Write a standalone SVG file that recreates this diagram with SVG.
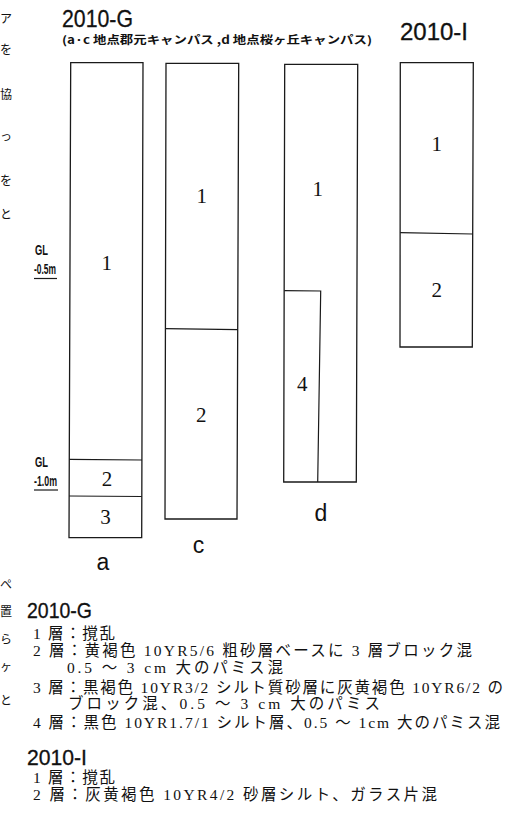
<svg xmlns="http://www.w3.org/2000/svg" width="521" height="817" viewBox="0 0 521 817">
<style>
.box{fill:none;stroke:#1a1a1a;stroke-width:1.3}
.ln{fill:none;stroke:#1a1a1a;stroke-width:1.2}
.num{font-family:"Liberation Serif","Noto Sans CJK JP",serif;font-size:21px;fill:#111;text-anchor:middle}
.lab{font-family:"Liberation Sans","DejaVu Sans",sans-serif;font-size:23px;fill:#111;text-anchor:middle}
.hd{font-family:"Liberation Sans","DejaVu Sans",sans-serif;fill:#111;stroke:#111;stroke-width:0.3}
.gl{font-family:"Liberation Sans","DejaVu Sans",sans-serif;font-size:15px;font-weight:bold;fill:#111}
.sub{font-family:"Noto Sans CJK JP",sans-serif;font-size:11px;font-weight:bold;fill:#111}
.lg{font-family:"Liberation Serif","Noto Sans CJK JP",serif;font-size:15.5px;fill:#111}
.frag{font-family:"Noto Sans CJK JP",sans-serif;font-size:12px;fill:#111}
</style>
<rect width="521" height="817" fill="#fff"/>

<g id="edge-fragments">
<text class="frag" x="0" y="23">ア</text>
<text class="frag" x="0" y="54">を</text>
<text class="frag" x="0" y="99">協</text>
<text class="frag" x="0" y="141">っ</text>
<text class="frag" x="0" y="185">を</text>
<text class="frag" x="0" y="219">と</text>
<text class="frag" x="0" y="589">ペ</text>
<text class="frag" x="0" y="616">置</text>
<text class="frag" x="0" y="644">ら</text>
<text class="frag" x="0" y="671">ヶ</text>
<text class="frag" x="0" y="705">と</text>
</g>

<g id="headers">
<text class="hd" x="62" y="27" font-size="24" textLength="71" lengthAdjust="spacingAndGlyphs">2010-G</text>
<text class="sub" x="62" y="44" textLength="310" lengthAdjust="spacingAndGlyphs">(a·c 地点郡元キャンパス ,d 地点桜ヶ丘キャンパス)</text>
<text class="hd" x="400" y="39.5" font-size="23" textLength="68" lengthAdjust="spacingAndGlyphs">2010-I</text>
</g>

<g id="gl-markers">
<text class="gl" x="35" y="255" textLength="13" lengthAdjust="spacingAndGlyphs">GL</text>
<text class="gl" x="34" y="273.5" textLength="22" lengthAdjust="spacingAndGlyphs">-0.5m</text>
<line class="ln" x1="34" y1="278.5" x2="57" y2="278.5"/>
<text class="gl" x="35" y="467" textLength="13" lengthAdjust="spacingAndGlyphs">GL</text>
<text class="gl" x="34" y="485.5" textLength="23" lengthAdjust="spacingAndGlyphs">-1.0m</text>
<line class="ln" x1="34" y1="490" x2="58" y2="490"/>
</g>

<g id="column-a">
<polygon class="box" points="70.7,62.7 143,62.7 141.7,537.7 69,537.7"/>
<line class="ln" x1="69.3" y1="459.3" x2="142" y2="460"/>
<line class="ln" x1="69.2" y1="496" x2="141.8" y2="496.5"/>
<text class="num" x="106.7" y="270">1</text>
<text class="num" x="107" y="485.5">2</text>
<text class="num" x="105.5" y="523.5">3</text>
<text class="lab" x="103" y="570">a</text>
</g>

<g id="column-c">
<polygon class="box" points="166,63.3 238.7,63.3 237,519 165,519"/>
<line class="ln" x1="165.5" y1="328.7" x2="237.8" y2="329.7"/>
<text class="num" x="201.7" y="202.5">1</text>
<text class="num" x="201.3" y="421.5">2</text>
<text class="lab" x="198.5" y="553">c</text>
</g>

<g id="column-d">
<polygon class="box" points="284.7,64.3 357.7,64.3 356.3,482 283.7,482"/>
<polyline class="ln" points="284.3,290.7 320.7,291 317.7,482"/>
<text class="num" x="317.7" y="195.8">1</text>
<text class="num" x="302.3" y="391">4</text>
<text class="lab" x="321" y="521">d</text>
</g>

<g id="column-I">
<polygon class="box" points="400.3,62.7 473.3,62.7 472.3,347 400,347"/>
<line class="ln" x1="400.2" y1="232.7" x2="472.8" y2="234"/>
<text class="num" x="436.7" y="151">1</text>
<text class="num" x="436.7" y="296.5">2</text>
</g>

<g id="legend">
<text class="hd" x="27" y="618" font-size="22" textLength="65" lengthAdjust="spacingAndGlyphs">2010-G</text>
<text class="lg" x="33" y="639" textLength="82">1 層：撹乱</text>
<text class="lg" x="33" y="656" textLength="439">2 層：黄褐色 10YR5/6 粗砂層ベースに 3 層ブロック混</text>
<text class="lg" x="67" y="673" textLength="216">0.5 ～ 3 cm 大のパミス混</text>
<text class="lg" x="33" y="693" textLength="470">3 層：黒褐色 10YR3/2 シルト質砂層に灰黄褐色 10YR6/2 の</text>
<text class="lg" x="68" y="709" textLength="312">ブロック混、0.5 ～ 3 cm 大のパミス</text>
<text class="lg" x="33" y="728" textLength="467">4 層：黒色 10YR1.7/1 シルト層、0.5 ～ 1cm 大のパミス混</text>
<text class="hd" x="27" y="765" font-size="22" textLength="60" lengthAdjust="spacingAndGlyphs">2010-I</text>
<text class="lg" x="33" y="783" textLength="82">1 層：撹乱</text>
<text class="lg" x="33" y="800" textLength="404">2 層：灰黄褐色 10YR4/2 砂層シルト、ガラス片混</text>
</g>
</svg>
